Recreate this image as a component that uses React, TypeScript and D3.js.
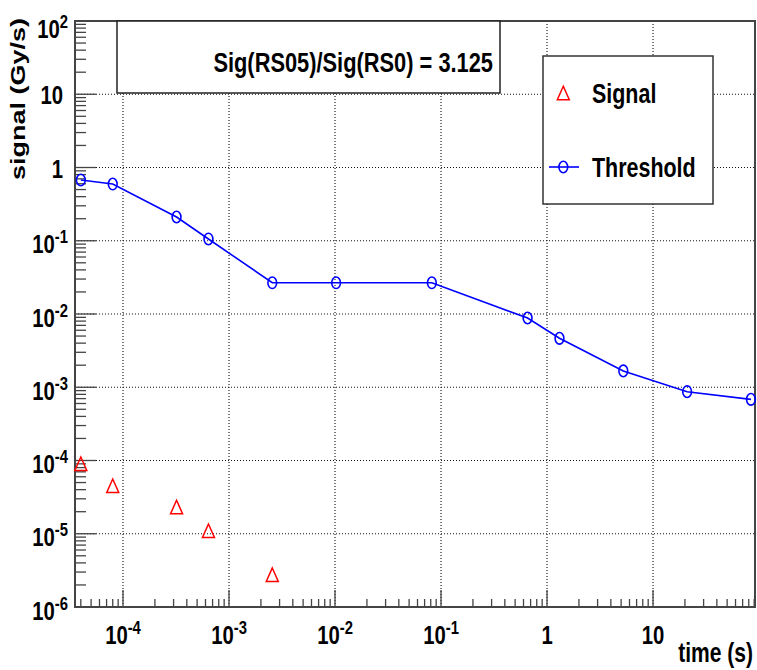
import React from "react";
import * as d3 from "d3";

// ---- data ----
const thresholdTime = [4e-5, 8e-5, 3.2e-4, 6.4e-4, 2.56e-3, 1.024e-2, 8.192e-2, 0.65536, 1.31072, 5.24288, 20.97152, 83.88608];
const thresholdSignal = [0.675, 0.595, 0.211, 0.1057, 0.0267, 0.0267, 0.0267, 0.00882, 0.00466, 0.00167, 0.000869, 0.000684];
const signalTime = [4e-5, 8e-5, 3.2e-4, 6.4e-4, 2.56e-3];
const signalValue = [8.95e-5, 4.49e-5, 2.3e-5, 1.09e-5, 2.74e-6];
const xTickValues = [1e-4, 1e-3, 1e-2, 1e-1, 1, 10];
const xTickLabels: [string, string][] = [["10", "-4"], ["10", "-3"], ["10", "-2"], ["10", "-1"], ["1", ""], ["10", ""]];
const yTickValues = [1e-6, 1e-5, 1e-4, 1e-3, 1e-2, 1e-1, 1, 10, 100];
const yTickLabels: [string, string][] = [["10", "-6"], ["10", "-5"], ["10", "-4"], ["10", "-3"], ["10", "-2"], ["10", "-1"], ["1", ""], ["10", ""], ["10", "2"]];
const titleText = "Sig(RS05)/Sig(RS0) = 3.125";
const legendLabels = ["Signal", "Threshold"];
const xTitle = "time (s)";
const yTitle = "signal (Gy/s)";

const W = 757;
const H = 670;
const L = 75, R = 755, T = 21, B = 607;
const FONT = "'Liberation Sans', Arial, Helvetica, sans-serif";
const SX = 0.78;
const AX = "#444";

export default function App() {
  const x = d3.scaleLog().domain([3.525e-5, 91.6]).range([L, R]);
  const y = d3.scaleLog().domain([1e-6, 100]).range([B, T]);

  const xMinor: { v: number; major: boolean }[] = [];
  for (let d = -5; d <= 1; d++) {
    for (let k = 1; k <= 9; k++) {
      const v = k * Math.pow(10, d);
      if (v >= 3.525e-5 && v <= 91.6) xMinor.push({ v, major: k === 1 });
    }
  }
  const yMinor: { v: number; major: boolean }[] = [];
  for (let d = -6; d <= 2; d++) {
    for (let k = 1; k <= 9; k++) {
      const v = k * Math.pow(10, d);
      if (v >= 1e-6 * 0.999 && v <= 100 * 1.001) yMinor.push({ v, major: k === 1 });
    }
  }

  const line = d3
    .line<number>()
    .x((_, i) => x(thresholdTime[i]))
    .y((d) => y(d));

  const tri = (cx: number, cy: number) => `M${cx},${cy - 7} L${cx + 6},${cy + 6.5} L${cx - 6},${cy + 6.5} Z`;

  return (
    <svg width={W} height={H} style={{ position: "absolute", left: 0, top: 0, background: "#fff" }} fontFamily={FONT} fontWeight="bold">
      <rect x={0} y={0} width={W} height={H} fill="#fff" />
      {/* grid */}
      {xTickValues.map((v, i) => (
        <line key={"gx" + i} x1={x(v)} x2={x(v)} y1={T} y2={B} stroke="#111" strokeWidth={1.1} strokeDasharray="1,2" />
      ))}
      {yTickValues.slice(1, -1).map((v, i) => (
        <line key={"gy" + i} x1={L} x2={R} y1={y(v)} y2={y(v)} stroke="#111" strokeWidth={1.1} strokeDasharray="1,2" />
      ))}
      {/* ticks */}
      {xMinor.map((t, i) => (
        <line key={"tx" + i} x1={x(t.v)} x2={x(t.v)} y1={B} y2={B - (t.major ? 17 : 8)} stroke={AX} strokeWidth={1.3} />
      ))}
      {yMinor.map((t, i) => (
        <line key={"ty" + i} x1={L} x2={L + (t.major ? 21 : 11)} y1={y(t.v)} y2={y(t.v)} stroke={AX} strokeWidth={1.3} />
      ))}
      {/* frame */}
      <rect x={L} y={T} width={R - L} height={B - T} fill="none" stroke={AX} strokeWidth={2} />

      {/* tick labels */}
      {xTickValues.map((v, i) => {
        const [m, e] = xTickLabels[i];
        return (
          <text key={"lx" + i} transform={`translate(${x(v)},644) scale(${SX},1)`} textAnchor="middle" fontSize={26} fill="#000">
            {m}
            {e && (
              <tspan fontSize={19} dy={-10}>
                {e}
              </tspan>
            )}
          </text>
        );
      })}
      {yTickValues.map((v, i) => {
        const [m, e] = yTickLabels[i];
        const yy = y(v);
        const base = e ? Math.max(yy + 12.5, 38) : yy + 10;
        const xr = e ? 68 : 63;
        return (
          <text key={"ly" + i} transform={`translate(${xr},${base}) scale(${SX},1)`} textAnchor="end" fontSize={26} fill="#000">
            {m}
            {e && (
              <tspan fontSize={19} dy={-10}>
                {e}
              </tspan>
            )}
          </text>
        );
      })}

      {/* axis titles */}
      <text transform={`translate(753,662) scale(${SX},1)`} textAnchor="end" fontSize={27} fill="#000">
        {xTitle}
      </text>
      <text transform={`translate(25,18) scale(0.75,1) rotate(-90)`} textAnchor="end" fontSize={27} fill="#000">
        {yTitle}
      </text>

      {/* threshold */}
      <path d={line(thresholdSignal) || ""} fill="none" stroke="#0000ff" strokeWidth={1.6} />
      {thresholdSignal.map((v, i) => (
        <ellipse key={"c" + i} cx={x(thresholdTime[i])} cy={y(v)} rx={4.4} ry={5.8} fill="none" stroke="#0000ff" strokeWidth={1.6} />
      ))}
      {/* signal */}
      {signalValue.map((v, i) => (
        <path key={"s" + i} d={tri(x(signalTime[i]), y(v))} fill="none" stroke="#ff0000" strokeWidth={1.5} />
      ))}

      {/* title box */}
      <rect x={117} y={T} width={383} height={72} fill="#fff" stroke="#222" strokeWidth={1.5} />
      <text transform={`translate(493,72) scale(${SX},1)`} textAnchor="end" fontSize={28} fill="#000">
        {titleText}
      </text>

      {/* legend */}
      <rect x={543} y={56} width={170} height={148} fill="#fff" stroke="#333" strokeWidth={1.5} />
      <path d={tri(563.3, 93.3)} fill="none" stroke="#ff0000" strokeWidth={1.5} />
      <line x1={549} x2={579} y1={167} y2={167} stroke="#0000ff" strokeWidth={1.6} />
      <ellipse cx={563.3} cy={167} rx={4.4} ry={5.8} fill="none" stroke="#0000ff" strokeWidth={1.6} />
      <text transform={`translate(592,102.7) scale(${SX},1)`} fontSize={27.5} fill="#000">
        {legendLabels[0]}
      </text>
      <text transform={`translate(592,176.7) scale(${SX},1)`} fontSize={27.5} fill="#000">
        {legendLabels[1]}
      </text>
    </svg>
  );
}
